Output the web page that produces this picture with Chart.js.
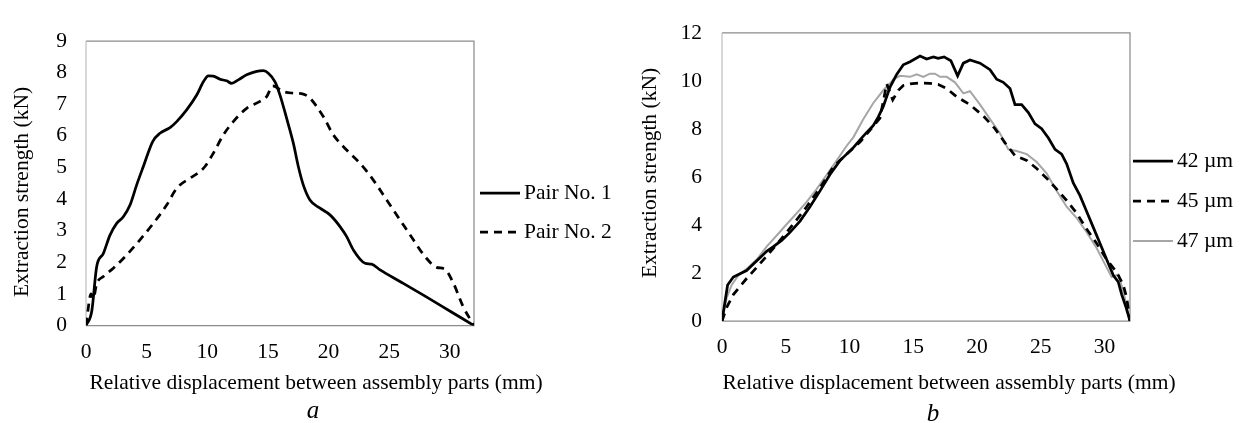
<!DOCTYPE html>
<html>
<head>
<meta charset="utf-8">
<title>Extraction strength vs relative displacement</title>
<script src="https://cdn.jsdelivr.net/npm/chart.js@4.4.0/dist/chart.umd.min.js"></script>
<style>
  html, body { margin: 0; padding: 0; background: #fff; }
  #wrap { position: relative; width: 1241px; height: 423px; }
  #chartA { position: absolute; left: 0; top: 0; }
  #chartB { position: absolute; left: 620px; top: 0; }
</style>
</head>
<body>
<div id="wrap">
  <canvas id="chartA" width="620" height="423"></canvas>
  <canvas id="chartB" width="621" height="423"></canvas>
</div>
<script>
// ---- chart a : two pairs ----
var pair1X = [0, 0.47, 0.88, 1.43, 1.98, 2.53, 3.08, 3.63, 4.18, 4.73, 5.50, 6.10, 6.93, 7.48, 8.30, 9.13, 9.68, 10.09, 10.50, 11.05,
              11.60, 12.01, 12.56, 13.25, 14.08, 14.63, 15.04, 15.59, 16.00, 16.55, 17.10, 17.51, 17.92, 18.47, 19.30, 20.12, 20.95,
              21.50, 22.05, 23.01, 23.56, 24.25, 26.0, 28.0, 30.0, 32.0];
var pair1Y = [0, 0.44, 1.86, 2.28, 2.86, 3.23, 3.44, 3.81, 4.45, 5.03, 5.82, 6.08, 6.26, 6.45, 6.82, 7.29, 7.71, 7.90, 7.89, 7.79,
              7.74, 7.66, 7.77, 7.93, 8.04, 8.06, 7.98, 7.71, 7.29, 6.55, 5.77, 5.03, 4.45, 3.97, 3.71, 3.50, 3.13,
              2.81, 2.39, 1.97, 1.94, 1.76, 1.37, 0.92, 0.46, 0];

var pair2X = [0, 0.42, 0.6, 0.88, 1.43, 2.25, 3.35, 4.45, 5.55, 6.65, 7.48, 8.58, 9.40, 9.81, 10.50, 11.33, 12.15, 13.25, 14.35,
              14.90, 15.40, 16.27, 17.10, 17.92, 18.47, 19.57, 20.40, 21.50, 22.60, 23.70, 24.80, 25.90, 27.00, 27.96, 28.92,
              29.60, 30.30, 31.10, 32.0];
var pair2Y = [0, 1.0, 0.85, 1.32, 1.55, 1.81, 2.23, 2.71, 3.23, 3.81, 4.34, 4.66, 4.87, 5.03, 5.45, 6.03, 6.45, 6.87, 7.09,
              7.24, 7.58, 7.40, 7.35, 7.32, 7.19, 6.61, 6.03, 5.55, 5.13, 4.60, 3.97, 3.34, 2.71, 2.18, 1.84,
              1.78, 1.34, 0.60, 0];

// ---- chart b : three roughness values ----
var s42X = [0, 0.44, 0.89, 1.41, 1.93, 2.46, 2.98, 3.50, 4.03, 4.68, 5.33, 6.12, 6.90, 7.69, 8.47, 9.25, 10.30, 11.08, 11.87,
            12.26, 12.65, 13.18, 13.70, 14.22, 14.75, 15.53, 16.05, 16.58, 16.95, 17.42, 17.95, 18.48, 18.93, 19.45, 20.24,
            21.02, 21.54, 22.06, 22.59, 22.98, 23.50, 24.03, 24.55, 25.07, 25.60, 26.12, 26.64, 27.03, 27.55, 28.08, 28.60,
            29.12, 29.65, 30.17, 30.69, 31.08, 31.35, 31.69, 32];
var s42Y = [0, 1.50, 1.83, 1.97, 2.10, 2.37, 2.63, 2.90, 3.10, 3.36, 3.69, 4.16, 4.76, 5.42, 6.10, 6.68, 7.22, 7.70, 8.15,
            8.50, 8.94, 9.74, 10.27, 10.67, 10.80, 11.04, 10.91, 11.00, 10.94, 11.00, 10.84, 10.21, 10.74, 10.87, 10.74,
            10.47, 10.07, 9.94, 9.68, 9.01, 9.01, 8.68, 8.21, 8.01, 7.62, 7.15, 6.95, 6.55, 5.75, 5.22, 4.56,
            3.90, 3.23, 2.56, 1.90, 1.63, 1.10, 0.57, 0];

var s45X = [0, 0.37, 0.89, 1.41, 1.93, 2.72, 3.50, 4.55, 5.59, 6.64, 7.69, 8.73, 9.78, 10.82, 11.61, 12.39, 12.92, 13.39,
            13.83, 14.22, 14.75, 15.53, 16.30, 16.97, 17.62, 18.41, 19.45, 20.50, 21.41, 22.20, 22.98, 23.90, 24.68, 25.46,
            26.25, 27.03, 27.82, 28.60, 29.39, 30.17, 30.96, 31.47, 31.74, 32];
var s45Y = [0, 0.57, 1.10, 1.44, 1.77, 2.23, 2.70, 3.36, 4.03, 4.76, 5.55, 6.42, 6.95, 7.45, 7.95, 8.45, 9.88, 9.21,
            9.61, 9.81, 9.88, 9.92, 9.90, 9.85, 9.68, 9.34, 9.01, 8.54, 8.01, 7.42, 6.89, 6.69, 6.35, 5.95,
            5.49, 5.02, 4.49, 3.83, 3.23, 2.56, 2.03, 1.50, 0.97, 0];

var s47X = [0, 0.37, 0.76, 1.28, 1.93, 2.72, 3.50, 4.29, 5.07, 5.86, 6.64, 7.42, 8.21, 8.99, 9.78, 10.30, 11.08, 11.87,
            12.65, 13.18, 13.44, 13.96, 14.75, 15.27, 15.79, 16.31, 16.70, 17.10, 17.62, 18.27, 18.93, 19.45, 20.24,
            21.02, 21.80, 22.46, 23.11, 23.90, 24.68, 25.46, 26.25, 27.03, 27.82, 28.60, 29.39, 30.04, 30.56, 31.08, 31.47, 32];
var s47Y = [0, 0.97, 1.50, 1.90, 2.17, 2.56, 3.10, 3.56, 4.03, 4.49, 4.96, 5.49, 6.09, 6.68, 7.30, 7.65, 8.40, 9.08,
            9.61, 9.90, 10.07, 10.21, 10.17, 10.27, 10.17, 10.30, 10.30, 10.17, 10.17, 9.94, 9.48, 9.57, 9.01,
            8.41, 7.82, 7.15, 7.08, 6.95, 6.62, 6.15, 5.42, 4.76, 4.29, 3.70, 3.03, 2.36, 1.83, 1.93, 1.24, 0];

var labelsA = ["Pair No. 1", "Pair No. 2"];
var labelsB = ["42 \u00b5m", "45 \u00b5m", "47 \u00b5m"];
var xTitle = "Relative displacement between assembly parts (mm)";
var yTitle = "Extraction strength (kN)";

var FONT = '"Liberation Serif", "Times New Roman", serif';
Chart.defaults.font.family = FONT;
Chart.defaults.font.size = 21.5;
Chart.defaults.color = "#000";

function toPoints(xs, ys) {
    var pts = [];
    for (var i = 0; i < xs.length; i++) {
        pts.push({x: xs[i], y: ys[i]});
    }
    return pts;
}

// grey box round the plot area (left side lighter, like the value axis line)
var plotFrame = {
    id: "plotFrame",
    beforeDatasetsDraw: function(chart) {
        var ctx = chart.ctx, a = chart.chartArea;
        ctx.save();
        ctx.lineWidth = 1.25;
        ctx.strokeStyle = "#8c8c8c";
        ctx.beginPath();
        ctx.moveTo(a.left, a.top);
        ctx.lineTo(a.right, a.top);
        ctx.lineTo(a.right, a.bottom);
        ctx.lineTo(a.left, a.bottom);
        ctx.stroke();
        ctx.strokeStyle = "#c0c0c0";
        ctx.beginPath();
        ctx.moveTo(a.left, a.top);
        ctx.lineTo(a.left, a.bottom);
        ctx.stroke();
        ctx.restore();
    }
};

// legend to the right of the plot, one row per dataset
var sideLegend = {
    id: "sideLegend",
    afterDraw: function(chart, args, opts) {
        var ctx = chart.ctx, a = chart.chartArea;
        ctx.save();
        ctx.font = "21.5px " + FONT;
        ctx.textBaseline = "middle";
        ctx.fillStyle = "#000";
        chart.data.datasets.forEach(function(ds, i) {
            var y = opts.top + i * opts.gap;
            var x0 = a.right + opts.offset;
            ctx.strokeStyle = ds.borderColor;
            ctx.lineWidth = ds.borderWidth;
            ctx.setLineDash(ds.borderDash || []);
            ctx.beginPath();
            ctx.moveTo(x0, y);
            ctx.lineTo(x0 + 40, y);
            ctx.stroke();
            ctx.setLineDash([]);
            ctx.fillText(ds.label, x0 + 44, y);
        });
        ctx.restore();
    }
};

// axis titles and the panel letter, placed like in the paper figure
var captions = {
    id: "captions",
    afterDraw: function(chart, args, o) {
        var ctx = chart.ctx;
        ctx.save();
        ctx.fillStyle = "#000";
        ctx.textAlign = "center";
        ctx.font = "21.5px " + FONT;
        ctx.textBaseline = "alphabetic";
        ctx.fillText(xTitle, o.xTitleX, o.xTitleY);
        ctx.save();
        ctx.translate(o.yTitleX, o.yTitleY);
        ctx.rotate(-Math.PI / 2);
        ctx.textBaseline = "middle";
        ctx.fillText(yTitle, 0, 0);
        ctx.restore();
        ctx.font = "italic 25px " + FONT;
        ctx.fillText(o.letter, o.letterX, o.letterY);
        ctx.restore();
    }
};

function makeOptions(cfg) {
    return {
        responsive: false,
        animation: false,
        events: [],
        layout: { padding: { top: cfg.top, left: 0, right: cfg.right, bottom: 0 } },
        scales: {
            x: {
                type: "linear",
                min: 0,
                max: 32,
                ticks: { stepSize: 5, includeBounds: false, padding: cfg.xTickPad },
                grid: { display: false, drawTicks: false },
                border: { display: false },
                afterFit: function(s) { s.height = cfg.xHeight; }
            },
            y: {
                min: 0,
                max: cfg.yMax,
                ticks: { stepSize: cfg.yStep, padding: cfg.yTickPad },
                grid: { display: false, drawTicks: false },
                border: { display: false },
                afterFit: function(s) { s.width = cfg.yWidth; }
            }
        },
        plugins: {
            legend: { display: false },
            tooltip: { enabled: false },
            sideLegend: { top: cfg.legendTop, gap: cfg.legendGap, offset: cfg.legendOffset },
            captions: cfg.captions
        }
    };
}

var chartA = new Chart(document.getElementById("chartA"), {
    type: "scatter",
    data: {
        datasets: [
            { label: labelsA[0], data: toPoints(pair1X, pair1Y), showLine: true, pointRadius: 0,
              borderColor: "#000", borderWidth: 2.75, cubicInterpolationMode: "monotone" },
            { label: labelsA[1], data: toPoints(pair2X, pair2Y), showLine: true, pointRadius: 0,
              borderColor: "#000", borderWidth: 2.75, borderDash: [8, 6], cubicInterpolationMode: "monotone" }
        ]
    },
    options: makeOptions({
        top: 41, right: 146, xHeight: 97.5, xTickPad: 13.5, yMax: 9, yStep: 1, yWidth: 86, yTickPad: 19,
        legendTop: 193, legendGap: 39, legendOffset: 6,
        captions: { xTitleX: 316, xTitleY: 389, yTitleX: 22, yTitleY: 192, letter: "a", letterX: 313, letterY: 418 }
    }),
    plugins: [plotFrame, sideLegend, captions]
});

var chartB = new Chart(document.getElementById("chartB"), {
    type: "scatter",
    data: {
        datasets: [
            { label: labelsB[0], data: toPoints(s42X, s42Y), showLine: true, pointRadius: 0,
              borderColor: "#000", borderWidth: 2.75 },
            { label: labelsB[1], data: toPoints(s45X, s45Y), showLine: true, pointRadius: 0,
              borderColor: "#000", borderWidth: 2.75, borderDash: [8, 6] },
            { label: labelsB[2], data: toPoints(s47X, s47Y), showLine: true, pointRadius: 0,
              borderColor: "#a6a6a6", borderWidth: 2 }
        ]
    },
    options: makeOptions({
        top: 20, right: 111, xHeight: 102, xTickPad: 13, yMax: 12, yStep: 2, yWidth: 102, yTickPad: 20,
        legendTop: 161, legendGap: 40, legendOffset: 3,
        captions: { xTitleX: 329, xTitleY: 389, yTitleX: 30, yTitleY: 173, letter: "b", letterX: 313, letterY: 421 }
    }),
    plugins: [plotFrame, sideLegend, captions]
});
</script>
</body>
</html>
